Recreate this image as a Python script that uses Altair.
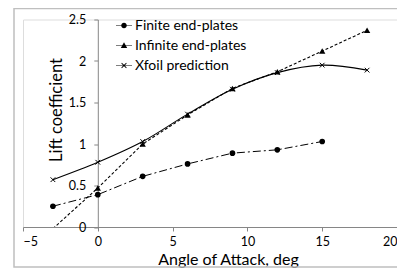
import altair as alt
import pandas as pd

# ---- data ----
series_names = ["Finite end-plates", "Infinite end-plates", "Xfoil prediction"]

angles_finite = [-3, 0, 3, 6, 9, 12, 15]
cl_finite = [0.25, 0.39, 0.61, 0.76, 0.89, 0.93, 1.03]

angles_infinite = [-3, 0, 3, 6, 9, 12, 15, 18]
cl_infinite = [-0.02, 0.47, 1.00, 1.35, 1.67, 1.87, 2.12, 2.37]

angles_xfoil = [-3, 0, 3, 6, 9, 12, 15, 18]
cl_xfoil = [0.57, 0.78, 1.03, 1.36, 1.66, 1.86, 1.95, 1.89]

x_ticks = [-5, 0, 5, 10, 15, 20]
y_ticks = [0, 0.5, 1, 1.5, 2, 2.5]

FONT = "Lato"
AXIS_GRAY = "#868686"

df_f = pd.DataFrame({"angle": angles_finite, "cl": cl_finite, "series": series_names[0]})
df_i = pd.DataFrame({"angle": angles_infinite, "cl": cl_infinite, "series": series_names[1]})
df_x = pd.DataFrame({"angle": angles_xfoil, "cl": cl_xfoil, "series": series_names[2]})

W = 374
xs = alt.Scale(domain=[-5, 20], nice=False, zero=False)
ys = alt.Scale(domain=[0, 2.5], nice=False, zero=False)

x_enc = alt.X("angle:Q", scale=xs, axis=alt.Axis(
    values=x_ticks, title="Angle of Attack, deg", grid=False,
    domainColor=AXIS_GRAY, tickColor=AXIS_GRAY, tickSize=4,
    labelFontSize=12.5, labelFont=FONT, labelColor="black", labelPadding=4,
    titleFontSize=16, titleFont=FONT, titleFontWeight="normal", titleColor="black",
    titleX=205, titleY=37, titleBaseline="alphabetic", titleAnchor="start", titleAlign="center"))
y_enc = alt.Y("cl:Q", scale=ys, axis=alt.Axis(
    values=y_ticks, format="~g", title="Lift coefficient", grid=False, offset=-W / 5,
    domainColor=AXIS_GRAY, tickColor=AXIS_GRAY, tickSize=4,
    labelFontSize=12.5, labelFont=FONT, labelColor="black", labelPadding=8,
    titleFontSize=16.5, titleFont=FONT, titleFontWeight="normal", titleColor="black",
    titleAngle=270, titleX=-36, titleY=90, titleBaseline="alphabetic", titleAlign="center"))

line_f = alt.Chart(df_f).mark_line(color="black", strokeWidth=1, strokeDash=[8, 3, 2, 3], clip=True).encode(x=x_enc, y=y_enc)
line_i = alt.Chart(df_i).mark_line(color="black", strokeWidth=1.1, strokeDash=[3, 2], clip=True).encode(x=x_enc, y=y_enc)
line_x = alt.Chart(df_x).mark_line(color="black", strokeWidth=1.1, interpolate="catmull-rom", clip=True).encode(x=x_enc, y=y_enc)

pts_f = alt.Chart(df_f).mark_point(shape="circle", filled=True, color="black", size=32, opacity=1).encode(x=x_enc, y=y_enc)
pts_i = alt.Chart(df_i).transform_filter("datum.cl >= 0").mark_point(
    shape="triangle-up", filled=True, color="black", size=40, opacity=1).encode(x=x_enc, y=y_enc)
pts_x = alt.Chart(df_x).mark_point(
    shape="M-1,-1L1,1M-1,1L1,-1", filled=False, color="black", strokeWidth=1, size=22, opacity=1).encode(x=x_enc, y=y_enc)

# legend layer: filled custom symbols (thin bar for the line + the marker), all wound the same way
BAR = "M-1,-0.04V0.04H1V-0.04Z"
legend_paths = [
    BAR + "M-0.35,0A0.35,0.35,0,1,0,0.35,0A0.35,0.35,0,1,0,-0.35,0Z",
    BAR + "M0,-0.42L-0.4,0.3L0.4,0.3Z",
    BAR + "M-0.265,-0.335L-0.335,-0.265L0.265,0.335L0.335,0.265Z"
          "M-0.335,0.265L-0.265,0.335L0.335,-0.265L0.265,-0.335Z",
]
df_leg = pd.DataFrame({"series": series_names, "angle": [0, 0, 0], "cl": [0, 0, 0]})
legend_layer = alt.Chart(df_leg).mark_point(opacity=0, filled=True, color="black").encode(
    x=alt.X("angle:Q", scale=xs),
    y=alt.Y("cl:Q", scale=ys),
    shape=alt.Shape("series:N", scale=alt.Scale(domain=series_names, range=legend_paths),
                    legend=alt.Legend(title=None, orient="none", legendX=92, legendY=-3,
                                      symbolSize=256, symbolOpacity=1, symbolFillColor="black",
                                      labelFont=FONT, labelFontSize=14, labelColor="black",
                                      labelOffset=2, rowPadding=4, padding=0)),
)

frame = alt.Chart(alt.Data(values=[{}])).mark_rect(
    fill=None, stroke="#bfbfbf", strokeWidth=1.5, clip=False).encode(
    x=alt.value(-9), x2=alt.value(420), y=alt.value(-11), y2=alt.value(247.5))

chart = alt.layer(frame, line_f, line_i, line_x, pts_f, pts_i, pts_x, legend_layer).properties(
    width=W, height=207.5,
    padding={"left": 15, "top": 11.5, "right": 0, "bottom": 41},
    autosize=alt.AutoSizeParams(type="none"),
).configure_view(stroke=None).configure(background="white")

chart.save("out.html", embed_options={"renderer": "svg", "actions": False})
